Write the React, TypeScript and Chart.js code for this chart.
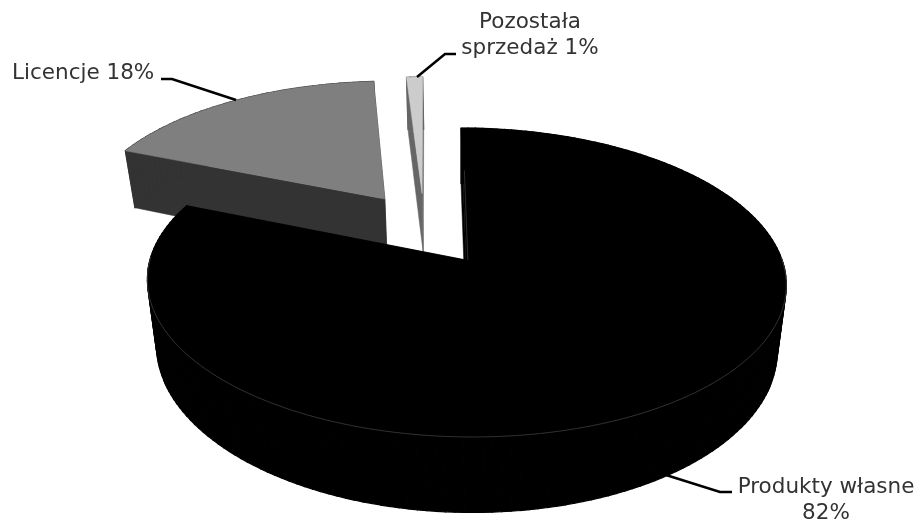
import React, { useEffect, useRef } from "react";
import { Chart, registerables } from "chart.js";

Chart.register(...registerables);

const categories = ["Produkty własne", "Licencje", "Pozostała sprzedaż"];
const shares = [82, 18, 1];
const topColors = ["#000000", "#7f7f7f", "#cccccc"];
const sideColors = ["#000000", "#333333", "#666666"];

type Plane = { cy: number; rx: number; ry: number };

// Upper and lower rims of the tilted disc, seen in perspective.
const CENTER_X = 466;
const TILT = 0.1457;
const SKEW = 5.7;
const topPlane: Plane = { cy: 260, rx: 316, ry: 151.2 };
const basePlane: Plane = { cy: 324, rx: 307, ry: 161 };

// How far each slice is pulled out of the disc, in radii.
const explosion = [
  [0, 0],
  [-0.265, -0.428],
  [-0.14, -0.469],
];

const project = (p: Plane, u: number, v: number): [number, number] => {
  const w = 1 - TILT * v;
  return [CENTER_X + (p.rx * u + SKEW * v) / w, p.cy + (p.ry * v) / w];
};

const fillPath = (
  ctx: CanvasRenderingContext2D,
  pts: [number, number][],
  color: string,
  edge = 0.5
) => {
  ctx.beginPath();
  pts.forEach(([x, y], i) => (i ? ctx.lineTo(x, y) : ctx.moveTo(x, y)));
  ctx.closePath();
  ctx.fillStyle = color;
  ctx.fill();
  ctx.strokeStyle = color;
  ctx.lineWidth = edge;
  ctx.stroke();
};

const rimPoints = (p: Plane, a0: number, a1: number, ex: number, ey: number) => {
  const steps = Math.max(4, Math.ceil(((a1 - a0) / (2 * Math.PI)) * 240));
  const pts: [number, number][] = [];
  for (let i = 0; i <= steps; i++) {
    const a = a0 + ((a1 - a0) * i) / steps;
    pts.push(project(p, ex + Math.cos(a), ey + Math.sin(a)));
  }
  return pts;
};

const drawSlice = (ctx: CanvasRenderingContext2D, index: number, a0: number, a1: number) => {
  const [ex, ey] = explosion[index];
  const top = rimPoints(topPlane, a0, a1, ex, ey);
  const base = rimPoints(basePlane, a0, a1, ex, ey);
  const apexTop = project(topPlane, ex, ey);
  const apexBase = project(basePlane, ex, ey);
  const side = sideColors[index];
  fillPath(ctx, [apexTop, top[0], base[0], apexBase], side);
  fillPath(ctx, [apexTop, top[top.length - 1], base[base.length - 1], apexBase], side);
  // The outer wall is laid down strip by strip; the wider edge hides the joins.
  for (let i = 0; i < top.length - 1; i++) {
    fillPath(ctx, [top[i], top[i + 1], base[i + 1], base[i]], side, 1.2);
  }
  fillPath(ctx, [apexTop, ...top], topColors[index]);
};

const strokeLine = (
  ctx: CanvasRenderingContext2D,
  pts: number[][],
  color: string,
  width: number
) => {
  ctx.beginPath();
  pts.forEach(([x, y], i) => (i ? ctx.lineTo(x, y) : ctx.moveTo(x, y)));
  ctx.strokeStyle = color;
  ctx.lineWidth = width;
  ctx.stroke();
};

const pie3d = {
  id: "pie3d",
  beforeDatasetsDraw(chart: Chart) {
    const ctx = chart.ctx;
    const arcs = chart.getDatasetMeta(0).data as any[];
    // Painter's order: the slices at the back go first.
    [2, 1, 0].forEach((i) => {
      const { startAngle, endAngle } = arcs[i].getProps(["startAngle", "endAngle"], true);
      drawSlice(ctx, i, startAngle, endAngle);
    });
    // Faint seam where the front wall meets the top of the main slice.
    strokeLine(ctx, rimPoints(topPlane, -0.02, Math.PI + 0.02, 0, 0), "#3c3c3c", 0.8);
    // Sliver of the cut face beside the centre of the main slice.
    strokeLine(
      ctx,
      [project(topPlane, 0.006, -0.65), project(topPlane, 0.006, 0)],
      "#2e2e2e",
      1
    );
    return false;
  },
  afterDraw(chart: Chart) {
    const ctx = chart.ctx;
    const pct = shares.map((s) => `${s}%`);
    const notes: { lines: string[]; x: number; y: number; align: CanvasTextAlign; leader: number[][] }[] = [
      {
        lines: [categories[0], pct[0]],
        x: 826,
        y: 487,
        align: "center",
        leader: [[666, 475], [720, 492], [732, 492]],
      },
      {
        lines: [`${categories[1]} ${pct[1]}`],
        x: 12,
        y: 73,
        align: "left",
        leader: [[161, 79], [172, 79], [236, 100]],
      },
      {
        lines: ["Pozostała", `sprzedaż ${pct[2]}`],
        x: 530,
        y: 22,
        align: "center",
        leader: [[417, 77], [445, 54], [456, 54]],
      },
    ];
    ctx.save();
    notes.forEach((n) => {
      strokeLine(ctx, n.leader, "#000000", 2.5);
      ctx.fillStyle = "#333333";
      ctx.font = '21.5px "DejaVu Sans"';
      ctx.textAlign = n.align;
      ctx.textBaseline = "middle";
      n.lines.forEach((line, i) => ctx.fillText(line, n.x, n.y + i * 26));
    });
    ctx.restore();
  },
};

export default function App() {
  const ref = useRef<HTMLCanvasElement>(null);
  useEffect(() => {
    const chart = new Chart(ref.current!, {
      type: "pie",
      data: {
        labels: categories,
        datasets: [{ data: shares, backgroundColor: topColors, borderWidth: 0 }],
      },
      options: {
        animation: false,
        responsive: false,
        plugins: { legend: { display: false }, tooltip: { enabled: false } },
      },
      plugins: [pie3d],
    });
    return () => chart.destroy();
  }, []);
  return (
    <div style={{ position: "absolute", left: 0, top: 0, width: 917, height: 520, background: "#fff" }}>
      <canvas ref={ref} width={917} height={520} style={{ display: "block" }} />
    </div>
  );
}
